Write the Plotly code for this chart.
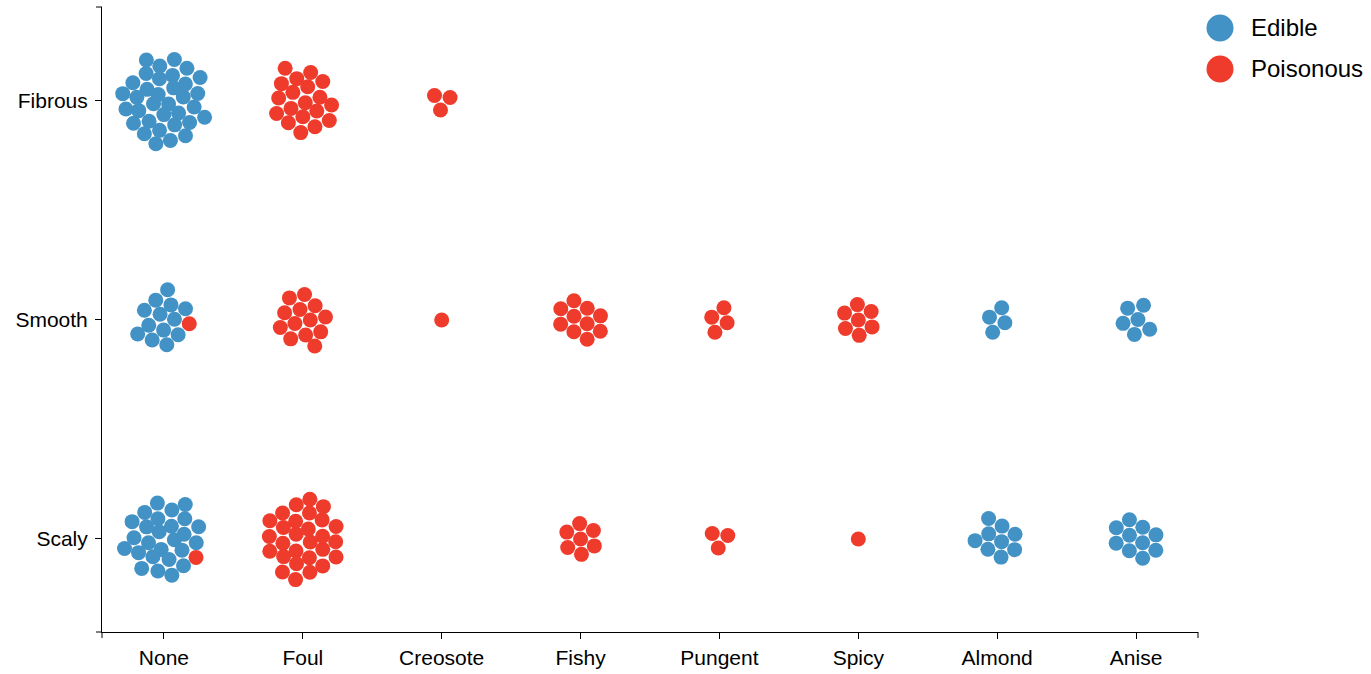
import numpy as np
import plotly.graph_objects as go

# ---- data -------------------------------------------------------------
odors = ["None", "Foul", "Creosote", "Fishy", "Pungent", "Spicy", "Almond", "Anise"]
surfaces = ["Scaly", "Smooth", "Fibrous"]  # bottom -> top
classes = ["Edible", "Poisonous"]
colors = {"Edible": "#4292c6", "Poisonous": "#ef3b2c"}

# number of dots per odor (same order as odors)
edible_fibrous = [34, 0, 0, 0, 0, 0, 0, 0]
edible_smooth = [13, 0, 0, 0, 0, 0, 4, 6]
edible_scaly = [26, 0, 0, 0, 0, 0, 9, 10]
poisonous_fibrous = [0, 19, 3, 0, 0, 0, 0, 0]
poisonous_smooth = [1, 13, 1, 10, 4, 7, 0, 0]
poisonous_scaly = [1, 28, 0, 7, 3, 1, 0, 0]

counts = {
    ("Edible", "Fibrous"): edible_fibrous,
    ("Edible", "Smooth"): edible_smooth,
    ("Edible", "Scaly"): edible_scaly,
    ("Poisonous", "Fibrous"): poisonous_fibrous,
    ("Poisonous", "Smooth"): poisonous_smooth,
    ("Poisonous", "Scaly"): poisonous_scaly,
}

# ---- layout geometry ----------------------------------------------------
W, H = 1371, 674
ML, MR, MT, MB = 102, 173, 7, 42
PW, PH = W - ML - MR, H - MT - MB
XR = [-0.446, 7.446]
YR = [-0.4247, 2.4292]
PX_X = PW / (XR[1] - XR[0])
PX_Y = PH / (YR[1] - YR[0])
DOT = 15
SEP = 15.4


def pack(n):
    """Deterministic compact packing: phyllotaxis start + collision relaxation."""
    if n == 0:
        return np.zeros((0, 2))
    i = np.arange(n)
    r = 10 * np.sqrt(0.5 + i)
    a = i * np.pi * (3 - np.sqrt(5))
    p = np.stack([r * np.cos(a), r * np.sin(a)], axis=1)
    for _ in range(300):
        p -= 0.06 * p
        for _ in range(3):
            d = p[:, None, :] - p[None, :, :]
            dist = np.sqrt((d ** 2).sum(-1)) + np.eye(n)
            ov = np.clip(SEP - dist, 0, None) * (1 - np.eye(n))
            push = (d / dist[..., None]) * (ov[..., None] / 2)
            p += push.sum(1)
    p -= p.mean(0)
    return p


pts = {c: ([], []) for c in classes}
for s_idx, s in enumerate(surfaces):
    for o_idx, o in enumerate(odors):
        ne = counts[("Edible", s)][o_idx]
        npz = counts[("Poisonous", s)][o_idx]
        p = pack(ne + npz)
        for k in range(ne + npz):
            c = "Edible" if k < ne else "Poisonous"
            pts[c][0].append(o_idx + p[k, 0] / PX_X)
            pts[c][1].append(s_idx + p[k, 1] / PX_Y)

fig = go.Figure()
for c in classes:
    fig.add_trace(go.Scatter(
        x=pts[c][0], y=pts[c][1], mode="markers", name=c,
        marker=dict(size=DOT, color=colors[c], line=dict(width=0)),
        showlegend=False, hoverinfo="skip",
    ))

font = "Liberation Sans, Arial, sans-serif"
fig.update_layout(
    template="none",
    width=W, height=H,
    margin=dict(l=ML, r=MR, t=MT, b=MB, pad=0),
    paper_bgcolor="white", plot_bgcolor="white",
    font=dict(family=font, size=21, color="black"),
    xaxis=dict(range=XR, tickvals=list(range(len(odors))), ticktext=odors,
               automargin=False,
               showgrid=False, zeroline=False, showline=True, linecolor="black",
               linewidth=1, ticks="outside", ticklen=6, tickcolor="black",
               ticklabelstandoff=1,
               tickfont=dict(size=21, family=font, color="black")),
    yaxis=dict(range=YR, tickvals=list(range(len(surfaces))), ticktext=surfaces,
               automargin=False,
               showgrid=False, zeroline=False, showline=True, linecolor="black",
               linewidth=1, ticks="outside", ticklen=6, tickcolor="black",
               ticklabelstandoff=3,
               tickfont=dict(size=21, family=font, color="black")),
)

# end ticks of axis domains
sx, sy = 6 / PW, 6 / PH
for x0, y0, x1, y1 in [(-sx, 1, 0, 1), (-sx, 0, 0, 0), (0, 0, 0, -sy), (1, 0, 1, -sy)]:
    fig.add_shape(type="line", xref="paper", yref="paper", x0=x0, y0=y0, x1=x1, y1=y1,
                  line=dict(color="black", width=1))

# legend
for k, c in enumerate(classes):
    cy = 28 + 41 * k
    xp = (1220 - ML) / PW
    yp = (H - MB - cy) / PH
    fig.add_shape(type="circle", xref="paper", yref="paper", xsizemode="pixel",
                  ysizemode="pixel", xanchor=xp, yanchor=yp, x0=-13.5, x1=13.5,
                  y0=-13.5, y1=13.5, fillcolor=colors[c], line=dict(width=0))
    fig.add_annotation(xref="paper", yref="paper", x=(1249 - ML) / PW, y=yp,
                       xanchor="left", yanchor="middle", text=c, showarrow=False,
                       font=dict(size=24, family=font, color="black"))

fig.write_html("out.html", config={"displayModeBar": False},
               post_script="document.body.style.margin='0';")
